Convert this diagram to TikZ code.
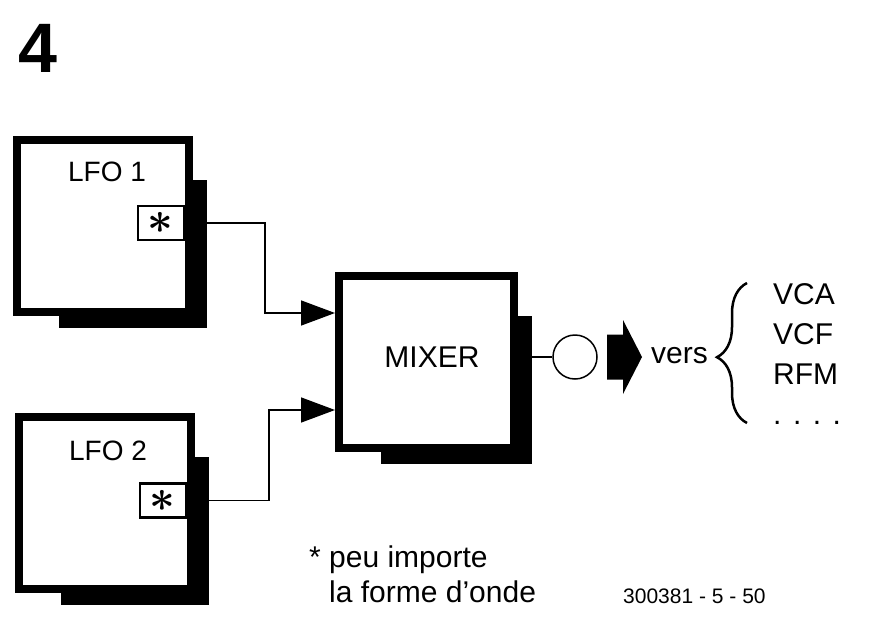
\documentclass[tikz,border=0pt]{standalone}
\usepackage{fontspec}
\setmainfont{Liberation Sans}
\usetikzlibrary{arrows.meta,positioning,calc,backgrounds,decorations.pathreplacing}
\newcommand{\staricon}{\scalebox{1.8}{\Huge\boldmath$\ast$}}

\begin{document}
\begin{tikzpicture}[
    x=1pt, y=-1pt,
    blockbox/.style={draw, fill=white, line width=8pt, minimum width=172pt, minimum height=172pt, inner sep=0pt},
    starbox/.style={draw, fill=white, line width=2.5pt, minimum width=46pt, minimum height=34pt, inner sep=0pt, anchor=east},
    blocktext/.style={font=\fontsize{28}{34}\selectfont, inner sep=0pt, anchor=north},
    bigtext/.style={font=\fontsize{30}{40}\selectfont, inner sep=0pt},
    conn/.style={line width=1.5pt},
    arr/.style={conn, -{Triangle[length=34pt, width=25pt]}}
]
\useasboundingbox (0,0) rectangle (873,624);

\node[font=\fontsize{70}{70}\selectfont\bfseries, inner sep=0pt, anchor=base west] (fignum) at (18,72) {4};

\node[blockbox] (lfo1) at (103,225.5) {};
\node[blockbox] (lfo2) at (105,503) {};
\node[blockbox, minimum width=175pt] (mixer) at (426.5,362) {};
\begin{scope}[on background layer]
\foreach \b in {lfo1,lfo2,mixer}
    \fill ($(\b.north west)+(46,44)$) rectangle ($(\b.south east)+(14,12)$);
\end{scope}

\node[blocktext] (lfo1txt) at ([xshift=4pt, yshift=-26pt]lfo1.north) {LFO 1};
\node[blocktext] (lfo2txt) at ([xshift=3pt, yshift=-28pt]lfo2.north) {LFO 2};
\node[bigtext] (mixtxt) at ([xshift=5.5pt, yshift=4.5pt]mixer.center) {MIXER};

\node[starbox] (star1) at ([xshift=-8pt, yshift=2.5pt]lfo1.east) {\staricon};
\node[starbox] (star2) at ([xshift=-8pt, yshift=2.5pt]lfo2.east) {\staricon};

\coordinate (in1) at ([yshift=49pt]mixer.west);
\coordinate (in2) at ([yshift=-48pt]mixer.west);
\draw[arr] (star1.east) -- ++(80,0) |- (in1);
\draw[arr] (star2.east) -- ++(82,0) |- (in2);

\node[draw, circle, line width=1.5pt, minimum size=44pt, inner sep=0pt] (jack) at (575,357) {};
\draw[conn] ([yshift=5pt]mixer.east) -- (jack.west);

% output arrow
\fill (607,334.5) -- (623,334.5) -- (623,320) -- (642,357) -- (623,394) -- (623,379.5) -- (607,379.5) -- cycle;
\node[bigtext, anchor=west] (vers) at (651,356) {vers};
\draw[line width=2.5pt, decorate, decoration={brace, amplitude=30pt, aspect=0.47}] (747,423) -- (747,283);
\node[bigtext, align=left, anchor=north west] (targets) at (773,283)
    {VCA\\VCF\\RFM\\.\hspace{11.5pt}.\hspace{11.5pt}.\hspace{11.5pt}.};

\node[bigtext, align=left, anchor=north west, font=\fontsize{30}{35}\selectfont] (note) at (309,545.5)
    {* peu importe\\\hphantom{* }la forme d'onde};
\node[font=\fontsize{21}{21}\selectfont, inner sep=0pt, anchor=base west] (refno) at (623,603) {300381 - 5 - 50};
\end{tikzpicture}
\end{document}
